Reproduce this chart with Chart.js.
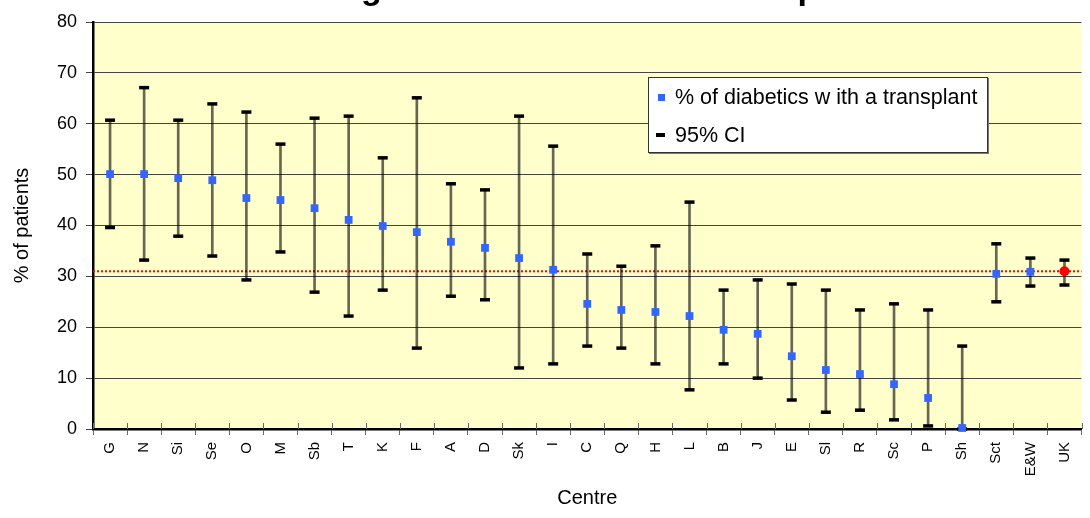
<!DOCTYPE html>
<html>
<head>
<meta charset="utf-8">
<script src="https://cdn.jsdelivr.net/npm/chart.js@4/dist/chart.umd.min.js"></script>
<style>
html,body{margin:0;padding:0;background:#fff;}
#wrap{position:relative;width:1090px;height:518px;overflow:hidden;}
#legend{position:absolute;left:648px;top:77px;width:338px;height:74px;background:#fff;border:1px solid #333;box-shadow:1px 1px 0 #777;font-family:"Liberation Sans",Arial,sans-serif;font-size:21.5px;color:#000;}
#legend .mk1{position:absolute;left:9px;top:16px;width:7px;height:7px;background:#3366FF;}
#legend .mk2{position:absolute;left:7px;top:55px;width:9px;height:4px;background:#000;}
#legend .t{position:absolute;left:26px;line-height:24px;white-space:nowrap;}
</style>
</head>
<body>
<div id="wrap">
<canvas id="c" width="1090" height="518"></canvas>
<div id="legend">
  <div class="mk1"></div><div class="t" style="top:7px">% of diabetics w ith a transplant</div>
  <div class="mk2"></div><div class="t" style="top:45px">95% CI</div>
</div>
</div>
<script>
const TITLE = 'Percentage of diabetics with a transplant';
const categories = ['G','N','Si','Se','O','M','Sb','T','K','F','A','D','Sk','I','C','Q','H','L','B','J','E','Sl','R','Sc','P','Sh','Sct','E&W','UK'];
const pctTransplant = [50.1, 50.1, 49.3, 48.9, 45.4, 45.0, 43.4, 41.1, 39.9, 38.7, 36.8, 35.6, 33.6, 31.3, 24.6, 23.4, 23.0, 22.2, 19.5, 18.7, 14.3, 11.6, 10.8, 8.8, 6.1, 0.2, 30.5, 30.9, 31.0];
const ciUpper = [60.7, 67.1, 60.7, 63.9, 62.3, 56.0, 61.1, 61.5, 53.3, 65.1, 48.2, 47.0, 61.5, 55.6, 34.4, 32.0, 36.0, 44.6, 27.3, 29.3, 28.5, 27.3, 23.4, 24.6, 23.4, 16.3, 36.4, 33.6, 33.2];
const ciLower = [39.6, 33.2, 37.9, 34.0, 29.3, 34.8, 26.9, 22.2, 27.3, 15.9, 26.1, 25.4, 12.0, 12.8, 16.3, 15.9, 12.8, 7.7, 12.8, 10.0, 5.7, 3.3, 3.7, 1.8, 0.6, 0.0, 25.0, 28.1, 28.3];
const ukAverage = 31.0;
const yTickValues = [0, 10, 20, 30, 40, 50, 60, 70, 80];

const FONT = '"Liberation Sans", Arial, sans-serif';
const isUK = categories.map(c => c === 'UK');

const bgPlugin = {
  id: 'bg',
  beforeDraw(chart) {
    const {ctx, chartArea: a} = chart;
    ctx.save();
    ctx.fillStyle = '#FFFFCC';
    ctx.fillRect(a.left, a.top, a.right - a.left, a.bottom - a.top);
    ctx.restore();
  },
  beforeDatasetsDraw(chart) {
    const {ctx, chartArea: a, scales} = chart;
    const y = scales.y.getPixelForValue(ukAverage);
    ctx.save();
    ctx.strokeStyle = '#FF0000';
    ctx.lineWidth = 2;
    ctx.setLineDash([2, 2]);
    ctx.beginPath();
    ctx.moveTo(a.left, y);
    ctx.lineTo(a.right, y);
    ctx.stroke();
    ctx.restore();
  },
  afterDraw(chart) {
    const {ctx, chartArea: a, scales} = chart;
    ctx.save();
    ctx.strokeStyle = '#666';
    ctx.lineWidth = 1;
    for (let i = 0; i <= categories.length; i++) {
      const x = Math.round(scales.x.getPixelForValue(i - 0.5)) + 0.5;
      ctx.beginPath();
      ctx.moveTo(x, a.bottom - 6);
      ctx.lineTo(x, a.bottom);
      ctx.stroke();
    }
    ctx.fillStyle = '#000';
    ctx.font = 'bold 34px ' + FONT;
    ctx.textAlign = 'center';
    ctx.textBaseline = 'alphabetic';
    ctx.fillText(TITLE, 548, -1);
    ctx.restore();
  }
};

new Chart(document.getElementById('c'), {
  type: 'bar',
  data: {
    labels: categories,
    datasets: [
      {
        type: 'line',
        label: '% of diabetics with a transplant',
        data: pctTransplant,
        showLine: false,
        pointStyle: isUK.map(u => u ? 'circle' : 'rect'),
        pointRadius: isUK.map(u => u ? 5 : 5.5),
        pointBackgroundColor: isUK.map(u => u ? '#FF0000' : '#3366FF'),
        pointBorderWidth: 0,
        pointHoverRadius: 0,
        order: 0,
        clip: false
      },
      {
        type: 'line',
        label: '95% CI upper',
        data: ciUpper,
        showLine: false,
        pointStyle: 'line',
        pointRadius: 5,
        pointBorderWidth: 3.5,
        pointBorderColor: '#000',
        order: 1,
        clip: false
      },
      {
        type: 'line',
        label: '95% CI lower',
        data: ciLower,
        showLine: false,
        pointStyle: 'line',
        pointRadius: 5,
        pointBorderWidth: 3.5,
        pointBorderColor: '#000',
        order: 1,
        clip: false
      },
      {
        type: 'bar',
        label: '95% CI',
        data: ciLower.map((l, i) => [l, ciUpper[i]]),
        backgroundColor: 'rgba(0,0,0,0.6)',
        borderWidth: 0,
        barThickness: 2,
        order: 3
      }
    ]
  },
  options: {
    responsive: false,
    devicePixelRatio: 1,
    animation: false,
    events: [],
    layout: { padding: { top: 22, right: 2, left: 0, bottom: 0 } },
    plugins: {
      legend: { display: false },
      tooltip: { enabled: false },
      title: { display: false }
    },
    scales: {
      x: {
        offset: true,
        grid: { display: true, drawOnChartArea: false, drawTicks: true, tickLength: 6, color: '#666', offset: true },
        border: { display: true, color: '#000', width: 2.5 },
        ticks: { autoSkip: false, minRotation: 90, maxRotation: 90, padding: 7, color: '#000', font: { family: FONT, size: 15 } },
        title: { display: true, text: 'Centre', color: '#000', font: { family: FONT, size: 20 }, padding: 8 },
        afterFit(s) { s.height = 89; }
      },
      y: {
        min: yTickValues[0],
        max: yTickValues[yTickValues.length - 1],
        afterBuildTicks(s) { s.ticks = yTickValues.map(v => ({ value: v })); },
        ticks: { padding: 9, color: '#000', font: { family: FONT, size: 18 } },
        grid: { color: '#444', lineWidth: 1, tickLength: 7, drawTicks: true },
        border: { display: true, color: '#000', width: 2.5 },
        title: { display: true, text: '% of patients', color: '#000', font: { family: FONT, size: 20 }, padding: 10 },
        afterFit(s) { s.width = 93; }
      }
    }
  },
  plugins: [bgPlugin]
});
</script>
</body>
</html>
